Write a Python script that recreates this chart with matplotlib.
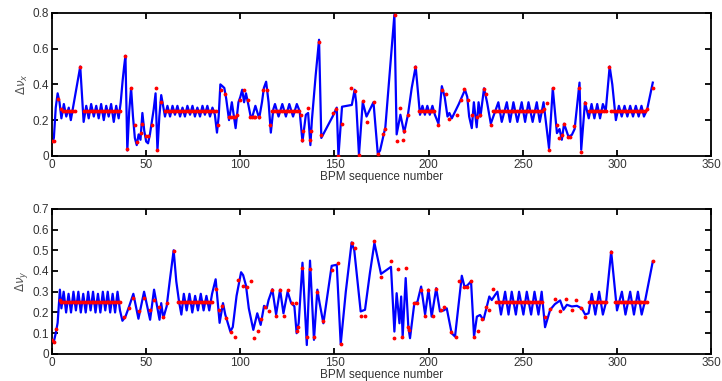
import matplotlib
matplotlib.use('Agg')
import matplotlib.pyplot as plt

# ---- top panel (horizontal) ----
top_blue_x = [0, 1, 2, 3, 4, 5, 6.3, 7.6, 8.9, 10, 11, 15, 16.8,
              18.2, 19.5, 20.8, 22.2, 23.5, 24.8, 26.1, 27.5, 28.8, 30.1, 31.4, 32.8, 34.1, 35.4,
              36.5, 37.5, 38.3, 39, 40, 41, 42, 43, 44, 45, 46, 47, 48, 49, 50, 51, 52, 53, 54, 55, 56, 57, 58, 59, 60,
              61.3, 62.7, 64.0, 65.3, 66.6, 68.0, 69.3, 70.6, 71.9, 73.3, 74.6, 75.9, 77.2, 78.6, 79.9, 81.2, 82.5, 83.9, 85.2, 86.5,
              87.6, 88.5, 89.4, 90.5, 91.5, 92.5, 94, 95.5, 97.5, 99, 100, 101, 102, 103, 104, 105.5, 106.4, 108, 110, 111.5, 112.5, 113.7, 115, 116.2, 117.5,
              118.4, 120.3, 122.3, 124.2, 126.0, 128.0, 130.0,
              131.5, 133, 134.8, 136, 137.2, 138, 140, 141.8, 143, 147, 149, 151.2, 152.1, 154, 159.2, 160.7, 161.5, 163, 165, 167, 170.7, 173, 174.2, 177, 180, 181.8, 183, 185, 187, 189, 191, 193.1, 195.4,
              196.7, 198, 199.3, 200.6, 202, 203.3,
              205.2, 207, 208.5, 210, 211, 212.3, 216, 219.3, 220.5, 221.5, 222.9, 224, 225.5, 226.5, 227.5, 229.4, 231, 233,
              237, 238.8, 241.5, 243.2, 245, 247.1, 249.4, 251.2, 253, 255.2, 257.4, 259, 261,
              263.9, 265.9, 268.1, 269.5, 270.7, 271.9, 274.2, 276, 277.5, 279, 280.1, 281, 283,
              285, 286.5, 288, 289.5, 291, 292.5, 294, 296.1, 297.5, 299.4,
              301, 302.5, 304, 305.5, 307, 308.5, 310, 311.5, 313, 314.3, 316, 319]
top_blue_y = [0.07, 0.10, 0.27, 0.35, 0.30, 0.21, 0.29, 0.22, 0.27, 0.20, 0.26, 0.50, 0.19,
              0.28, 0.21, 0.29, 0.22, 0.28, 0.21, 0.29, 0.20, 0.28, 0.22, 0.29, 0.19, 0.28, 0.21,
              0.30, 0.42, 0.50, 0.56, 0.03, 0.25, 0.38, 0.22, 0.10, 0.06, 0.12, 0.09, 0.24, 0.14, 0.08, 0.07, 0.12, 0.19, 0.26, 0.35, 0.03, 0.22, 0.34, 0.28, 0.22,
              0.28, 0.22, 0.28, 0.23, 0.28, 0.22, 0.27, 0.22, 0.28, 0.23, 0.28, 0.22, 0.27, 0.22, 0.28, 0.23, 0.28, 0.22, 0.27, 0.23,
              0.13, 0.22, 0.40, 0.39, 0.38, 0.32, 0.20, 0.30, 0.155, 0.30, 0.33, 0.37, 0.30, 0.35, 0.30, 0.22, 0.22, 0.28, 0.21, 0.30, 0.38, 0.415, 0.30, 0.13, 0.26,
              0.29, 0.22, 0.29, 0.22, 0.29, 0.22, 0.29,
              0.25, 0.08, 0.23, 0.24, 0.06, 0.20, 0.45, 0.65, 0.10, 0.18, 0.22, 0.27, 0.0, 0.275, 0.285, 0.37, 0.30, 0.005, 0.30, 0.22, 0.30, 0.01, 0.03, 0.16, 0.55, 0.79, 0.12, 0.23, 0.13, 0.23, 0.38, 0.50, 0.23,
              0.28, 0.23, 0.28, 0.23, 0.28, 0.23,
              0.18, 0.39, 0.33, 0.22, 0.24, 0.21, 0.29, 0.37, 0.33, 0.22, 0.155, 0.30, 0.16, 0.30, 0.22, 0.378, 0.30, 0.18,
              0.30, 0.19, 0.30, 0.19, 0.30, 0.19, 0.30, 0.19, 0.30, 0.19, 0.30, 0.19, 0.30,
              0.043, 0.378, 0.127, 0.15, 0.09, 0.18, 0.108, 0.117, 0.15, 0.30, 0.41, 0.034, 0.30,
              0.21, 0.29, 0.21, 0.29, 0.21, 0.29, 0.25, 0.50, 0.40, 0.20,
              0.28, 0.22, 0.28, 0.22, 0.28, 0.22, 0.28, 0.22, 0.28, 0.22, 0.26, 0.41]

top_red_x = [0, 1, 3, 5,
             6, 7, 8, 9, 10, 11, 12,
             15,
             17, 18, 19, 20, 21, 22, 23, 24, 25, 26, 27, 28, 29, 30, 31, 32, 33, 34, 35, 36,
             39, 40, 42, 44, 45, 47, 48, 50, 51, 53, 55, 56, 58,
             60, 61, 62, 63, 64, 65, 66, 67, 68, 69, 70, 71, 72, 73, 74, 75, 76, 77, 78, 79, 80, 81, 82, 83, 84, 85, 86, 87,
             88, 90, 92, 94, 95, 96, 97, 98, 100, 102, 104, 105, 106, 107, 108, 110, 112, 114, 116,
             117, 118, 119, 120, 121, 122, 123, 124, 125, 126, 127, 128, 129, 130, 131,
             132, 133, 133.5, 136, 137, 137.5, 142, 143, 149, 151, 152, 154, 159, 161, 163, 165, 167, 171, 173, 176, 177, 182, 183, 185, 186.5, 187, 189, 193,
             195, 196, 197, 198, 199, 200, 201, 202, 203,
             205, 207, 209, 211, 215, 217, 219, 221, 223, 225.5, 227, 229.5, 230.5, 233,
             234, 235, 236, 237, 238, 239, 240, 241, 242, 243, 244, 245, 246, 247, 248, 249, 250, 251, 252, 253, 254, 255, 256, 257, 258, 259, 260,
             261, 263, 264, 266, 268, 269, 271, 272, 274, 275, 277, 280, 281, 283,
             285, 286, 287, 288, 289, 290, 291, 292, 293, 294,
             296,
             297, 298, 299, 300, 301, 302, 303, 304, 305, 306, 307, 308, 309, 310, 311, 312, 313, 314, 315,
             316, 319]
top_red_y = [0.085, 0.085, 0.32, 0.26,
             0.25, 0.25, 0.25, 0.25, 0.25, 0.25, 0.25,
             0.50,
             0.25, 0.25, 0.25, 0.25, 0.25, 0.25, 0.25, 0.25, 0.25, 0.25, 0.25, 0.25, 0.25, 0.25, 0.25, 0.25, 0.25, 0.25, 0.25, 0.25,
             0.56, 0.04, 0.38, 0.17, 0.08, 0.13, 0.18, 0.11, 0.11, 0.17, 0.38, 0.03, 0.30,
             0.25, 0.25, 0.25, 0.25, 0.25, 0.25, 0.25, 0.25, 0.25, 0.25, 0.25, 0.25, 0.25, 0.25, 0.25, 0.25, 0.25, 0.25, 0.25, 0.25, 0.25, 0.25, 0.25, 0.25, 0.25, 0.25, 0.25, 0.25,
             0.17, 0.37, 0.345, 0.22, 0.22, 0.22, 0.22, 0.23, 0.31, 0.37, 0.315, 0.22, 0.22, 0.22, 0.22, 0.216, 0.37, 0.37, 0.173,
             0.25, 0.25, 0.25, 0.25, 0.25, 0.25, 0.25, 0.25, 0.25, 0.25, 0.25, 0.25, 0.25, 0.25, 0.25,
             0.23, 0.086, 0.14, 0.266, 0.086, 0.14, 0.64, 0.117, 0.24, 0.263, 0.0, 0.18, 0.378, 0.365, 0.005, 0.307, 0.19, 0.30, 0.01, 0.12, 0.15, 0.79, 0.084, 0.266, 0.086, 0.14, 0.23, 0.50,
             0.25, 0.25, 0.25, 0.25, 0.25, 0.25, 0.25, 0.25, 0.25,
             0.173, 0.37, 0.346, 0.207, 0.23, 0.31, 0.374, 0.31, 0.23, 0.22, 0.23, 0.372, 0.345, 0.173,
             0.25, 0.25, 0.25, 0.25, 0.25, 0.25, 0.25, 0.25, 0.25, 0.25, 0.25, 0.25, 0.25, 0.25, 0.25, 0.25, 0.25, 0.25, 0.25, 0.25, 0.25, 0.25, 0.25, 0.25, 0.25, 0.25, 0.25,
             0.26, 0.294, 0.034, 0.378, 0.173, 0.10, 0.117, 0.18, 0.108, 0.108, 0.168, 0.378, 0.024, 0.298,
             0.25, 0.25, 0.25, 0.25, 0.25, 0.25, 0.25, 0.25, 0.25, 0.25,
             0.50,
             0.25, 0.25, 0.25, 0.25, 0.25, 0.25, 0.25, 0.25, 0.25, 0.25, 0.25, 0.25, 0.25, 0.25, 0.25, 0.25, 0.25, 0.25, 0.25,
             0.26, 0.378]

# ---- bottom panel (vertical) ----
bot_blue_x = [0, 1, 2, 3, 4.2, 5,
              6.2, 7.5, 8.8, 10.1, 11.4, 12.7, 14.0, 15.3, 16.6, 17.9, 19.2, 20.5, 21.8, 23.1, 24.4, 25.7, 27.0, 28.3, 29.6, 30.9, 32.2, 33.5, 34.8, 36.1,
              37.4, 39, 41, 43.2, 45.9, 48.9, 52.1, 54.2, 57.1, 58, 59.1, 60.9, 62.5, 64.6, 66, 67.5, 68.7,
              70, 71.5, 73, 74.5, 76, 77.5, 79, 80.5, 82, 83.5, 85,
              86.9, 89, 90.8, 92, 94.7, 96, 98, 100.4, 101.5, 103, 104.5, 106.9, 109, 110.8, 112.6, 114, 115, 117, 119, 121.1,
              122.9, 125.1, 127, 128.7, 129.9, 131, 133, 135.3, 137, 139.1, 140.9, 142, 144.1, 148.5, 151.2, 153.3, 156, 159.1, 160.5, 163.9,
              166.2, 168.8, 171.2, 174.7, 180, 181.8, 183, 184.5, 185.4, 186.2, 187.8, 189.2, 190.1, 192.4, 194, 196, 198.1, 199.9, 201.6, 204,
              206, 208, 209.6, 212.2, 214, 217.6, 219, 220.5, 222.5, 224.1, 225.6, 227.3, 229.1, 232.2, 233.5, 235.3,
              236.5, 238.4, 240.6, 242.4, 244.1, 246.3, 248.0, 250.3, 252.1, 254.4, 256.2, 258.3, 260.0,
              261.8, 264.5, 267, 269.8, 271.6, 273.4, 276, 278.7, 281.3, 283.1, 284.9,
              286.6, 288.5, 290.5, 292.5, 294.2, 296.9, 300, 302.6, 304.5, 307, 309, 311.1, 313.1, 315, 319]
bot_blue_y = [0.05, 0.06, 0.10, 0.15, 0.31, 0.22,
              0.30, 0.20, 0.29, 0.20, 0.30, 0.21, 0.30, 0.20, 0.29, 0.20, 0.30, 0.21, 0.30, 0.20, 0.29, 0.20, 0.30, 0.21, 0.30, 0.20, 0.29, 0.20, 0.30, 0.21,
              0.16, 0.18, 0.23, 0.29, 0.17, 0.30, 0.165, 0.31, 0.165, 0.245, 0.173, 0.23, 0.35, 0.50, 0.35, 0.25, 0.19,
              0.29, 0.21, 0.29, 0.20, 0.28, 0.21, 0.29, 0.21, 0.28, 0.21, 0.29,
              0.36, 0.15, 0.245, 0.19, 0.108, 0.13, 0.28, 0.394, 0.38, 0.33, 0.22, 0.116, 0.196, 0.14, 0.232, 0.22, 0.26, 0.312, 0.19, 0.31,
              0.196, 0.30, 0.245, 0.23, 0.10, 0.15, 0.44, 0.043, 0.45, 0.068, 0.31, 0.25, 0.148, 0.425, 0.43, 0.047, 0.30, 0.538, 0.50, 0.205,
              0.213, 0.39, 0.535, 0.386, 0.42, 0.108, 0.293, 0.148, 0.277, 0.084, 0.366, 0.13, 0.076, 0.245, 0.25, 0.325, 0.19, 0.31, 0.18, 0.317,
              0.205, 0.21, 0.22, 0.10, 0.084, 0.377, 0.325, 0.33, 0.35, 0.084, 0.18, 0.188, 0.164, 0.277, 0.26, 0.285,
              0.30, 0.19, 0.30, 0.19, 0.30, 0.19, 0.30, 0.19, 0.30, 0.19, 0.30, 0.19, 0.30,
              0.129, 0.213, 0.24, 0.258, 0.213, 0.237, 0.229, 0.232, 0.22, 0.19, 0.196,
              0.29, 0.19, 0.30, 0.19, 0.25, 0.494, 0.21, 0.30, 0.19, 0.30, 0.19, 0.30, 0.19, 0.26, 0.446]

bot_red_x = [0, 1, 2, 4,
             5, 6, 7, 8, 9, 10, 11, 12, 13, 14, 15, 16, 17, 18, 19, 20, 21, 22, 23, 24, 25, 26, 27, 28, 29, 30, 31, 32, 33, 34, 35, 36,
             38, 41, 43, 46, 49, 52, 54, 57, 59, 61, 65,
             67, 68, 69, 70, 71, 72, 73, 74, 75, 76, 77, 78, 79, 80, 81, 82, 83, 84, 85,
             87, 88.6, 90.4, 92.6, 95, 97, 99, 101.6, 103.4, 105.5, 107.3, 109.2, 110.8, 113.1, 115.2, 117, 119, 121.1, 123.2, 125.1,
             127.3, 129.4, 129.9, 130.8, 133, 135.3, 137, 139.1, 140.9, 144.1, 148.9, 152.1, 153.3, 159.1, 160.9, 164.2, 166.2, 171.2, 174.7, 180,
             181.8, 183.9, 186.1, 188, 188.9, 189.8, 192, 194, 196, 198.1, 199.9, 202.2, 204, 206.4, 208.2, 211.9, 214.4, 216.3, 219, 220.2,
             222.3, 224.1, 226.1, 228.3, 230.3, 232.1, 234,
             236, 237, 238, 239, 240, 241, 242, 243, 244, 245, 246, 247, 248, 249, 250, 251, 252, 253, 254, 255, 256, 257, 258, 259, 260,
             261.8, 264.5, 267.2, 269.8, 273, 276, 278.1, 280.9, 283.1,
             285, 286, 287, 288, 289, 290, 291, 292, 293, 294,
             297,
             299, 300, 301, 302, 303, 304, 305, 306, 307, 308, 309, 310, 311, 312, 313, 314, 315, 316,
             319]
bot_red_y = [0.065, 0.06, 0.12, 0.26,
             0.25, 0.25, 0.25, 0.25, 0.25, 0.25, 0.25, 0.25, 0.25, 0.25, 0.25, 0.25, 0.25, 0.25, 0.25, 0.25, 0.25, 0.25, 0.25, 0.25, 0.25, 0.25, 0.25, 0.25, 0.25, 0.25, 0.25, 0.25, 0.25, 0.25, 0.25, 0.25,
             0.18, 0.22, 0.27, 0.205, 0.27, 0.213, 0.26, 0.226, 0.18, 0.248, 0.495,
             0.25, 0.25, 0.25, 0.25, 0.25, 0.25, 0.25, 0.25, 0.25, 0.25, 0.25, 0.25, 0.25, 0.25, 0.25, 0.25, 0.25, 0.25, 0.25,
             0.315, 0.21, 0.232, 0.173, 0.108, 0.08, 0.355, 0.328, 0.325, 0.353, 0.079, 0.11, 0.17, 0.225, 0.208, 0.31, 0.184, 0.306, 0.184, 0.306,
             0.248, 0.245, 0.11, 0.132, 0.414, 0.08, 0.41, 0.08, 0.30, 0.16, 0.406, 0.44, 0.047, 0.535, 0.51, 0.184, 0.184, 0.543, 0.369, 0.446,
             0.079, 0.41, 0.08, 0.414, 0.13, 0.115, 0.245, 0.248, 0.31, 0.184, 0.31, 0.184, 0.312, 0.213, 0.225, 0.106, 0.08, 0.353, 0.325, 0.322,
             0.353, 0.08, 0.11, 0.17, 0.228, 0.21, 0.312,
             0.25, 0.25, 0.25, 0.25, 0.25, 0.25, 0.25, 0.25, 0.25, 0.25, 0.25, 0.25, 0.25, 0.25, 0.25, 0.25, 0.25, 0.25, 0.25, 0.25, 0.25, 0.25, 0.25, 0.25, 0.25,
             0.177, 0.217, 0.266, 0.205, 0.266, 0.213, 0.258, 0.22, 0.18,
             0.25, 0.25, 0.25, 0.25, 0.25, 0.25, 0.25, 0.25, 0.25, 0.25,
             0.494,
             0.25, 0.25, 0.25, 0.25, 0.25, 0.25, 0.25, 0.25, 0.25, 0.25, 0.25, 0.25, 0.25, 0.25, 0.25, 0.25, 0.25, 0.25,
             0.446]

x_ticks = [0, 50, 100, 150, 200, 250, 300, 350]
top_yticks = [0, 0.2, 0.4, 0.6, 0.8]
bot_yticks = [0, 0.1, 0.2, 0.3, 0.4, 0.5, 0.6, 0.7]

plt.rcParams['font.family'] = ['Liberation Sans', 'DejaVu Sans']
plt.rcParams['mathtext.fontset'] = 'dejavusans'

fig = plt.figure(figsize=(7.22, 3.81), dpi=100)
ax1 = fig.add_axes([0.072, 0.591, 0.913, 0.375])
ax2 = fig.add_axes([0.072, 0.071, 0.913, 0.381])

panels = [
    (ax1, top_blue_x, top_blue_y, top_red_x, top_red_y, top_yticks, 0.8, r'$\Delta\nu_x$'),
    (ax2, bot_blue_x, bot_blue_y, bot_red_x, bot_red_y, bot_yticks, 0.7, r'$\Delta\nu_y$'),
]

for ax, bx, by, rx, ry, yt, ymax, lab in panels:
    ax.plot(bx, by, color='#0000ff', lw=1.6, zorder=2)
    ax.plot(rx, ry, '.', color='#ff0000', ms=3.5, zorder=3)
    ax.set_xlim(0, 350)
    ax.set_ylim(0, ymax)
    ax.set_xticks(x_ticks)
    ax.set_yticks(yt)
    ax.set_yticklabels([('%g' % v) for v in yt])
    ax.tick_params(direction='in', top=True, right=True, length=4, width=1.3,
                   labelsize=8.5, labelcolor='#333333', pad=2)
    for s in ax.spines.values():
        s.set_linewidth(1.3)
    ax.set_xlabel('BPM sequence number', fontsize=8.5, color='#333333', labelpad=0)
    ax.set_ylabel(lab, fontsize=8.5, color='#555555', labelpad=2)

fig.savefig('out.png', dpi=100)
